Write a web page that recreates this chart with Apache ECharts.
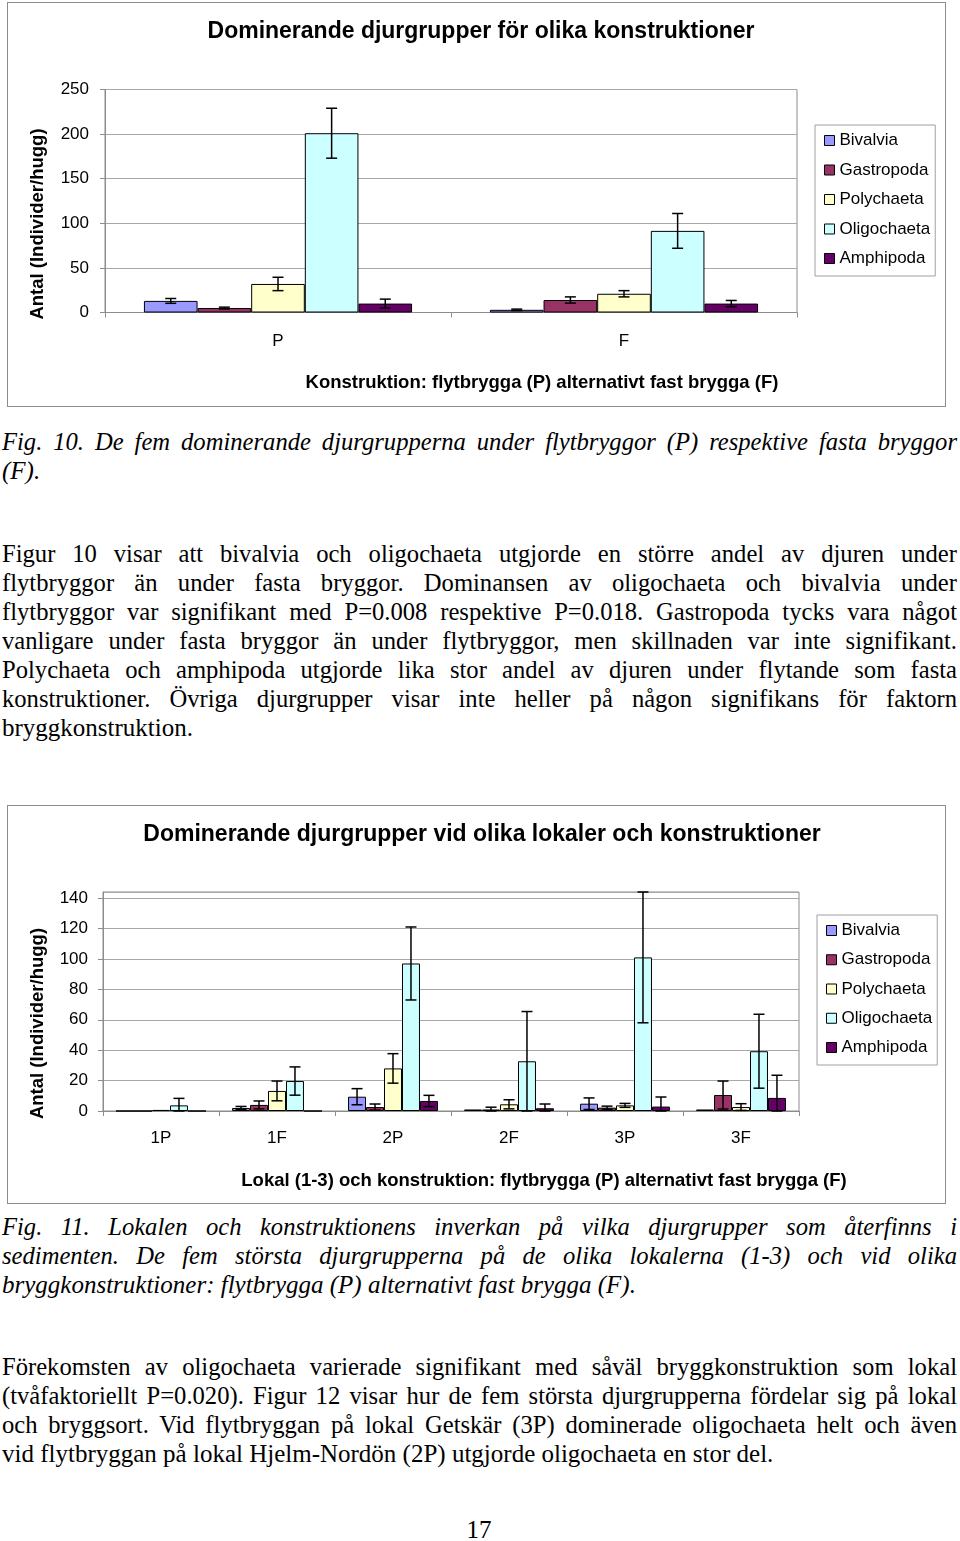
<!DOCTYPE html>
<html lang="sv">
<head>
<meta charset="UTF-8">
<title>Dominerande djurgrupper</title>
<script src="https://cdn.jsdelivr.net/npm/echarts@6/dist/echarts.min.js"></script>
<style>
  body { margin: 0; background: #fff; width: 960px; height: 1541px; position: relative; overflow: hidden;
         font-family: 'Liberation Serif', 'Times New Roman', serif; color: #000; }
  .box { position: absolute; left: 7px; width: 937px; border: 1px solid #8c8c8c; }
  .ln { position: absolute; left: 2px; width: 955px; font-size: 25px; line-height: 29px;
        text-align: justify; text-align-last: justify; transform-origin: 0 0; }
  .ln.end { text-align-last: left; }
  .it { font-style: italic; }
  .pg { position: absolute; left: 0; width: 958px; text-align: center; font-size: 25px; line-height: 29px; }
</style>
</head>
<body>
<div id="fig10" class="box" style="top:2px;height:403px;"></div>

<div class="ln it" style="top:427px;">Fig. 10. De fem dominerande djurgrupperna under flytbryggor (P) respektive fasta bryggor</div>
<div class="ln it end" style="top:456px;">(F).</div>

<div class="ln" style="top:539px;">Figur 10 visar att bivalvia och oligochaeta utgjorde en större andel av djuren under</div>
<div class="ln" style="top:568px;">flytbryggor än under fasta bryggor. Dominansen av oligochaeta och bivalvia under</div>
<div class="ln" style="top:597px;">flytbryggor var signifikant med P=0.008 respektive P=0.018. Gastropoda tycks vara något</div>
<div class="ln" style="top:626px;">vanligare under fasta bryggor än under flytbryggor, men skillnaden var inte signifikant.</div>
<div class="ln" style="top:655px;">Polychaeta och amphipoda utgjorde lika stor andel av djuren under flytande som fasta</div>
<div class="ln" style="top:684px;">konstruktioner. Övriga djurgrupper visar inte heller på någon signifikans för faktorn</div>
<div class="ln end" style="top:713px;">bryggkonstruktion.</div>

<div id="fig11" class="box" style="top:805px;height:397px;"></div>

<div class="ln it" style="top:1212px;">Fig. 11. Lokalen och konstruktionens inverkan på vilka djurgrupper som återfinns i</div>
<div class="ln it" style="top:1241px;">sedimenten. De fem största djurgrupperna på de olika lokalerna (1-3) och vid olika</div>
<div class="ln it end" style="top:1270px;">bryggkonstruktioner: flytbrygga (P) alternativt fast brygga (F).</div>

<div class="ln" style="top:1352px;">Förekomsten av oligochaeta varierade signifikant med såväl bryggkonstruktion som lokal</div>
<div class="ln" style="top:1381px;">(tvåfaktoriellt P=0.020). Figur 12 visar hur de fem största djurgrupperna fördelar sig på lokal</div>
<div class="ln" style="top:1410px;">och bryggsort. Vid flytbryggan på lokal Getskär (3P) dominerade oligochaeta helt och även</div>
<div class="ln end" style="top:1439px;">vid flytbryggan på lokal Hjelm-Nordön (2P) utgjorde oligochaeta en stor del.</div>

<div class="pg" style="top:1515px;">17</div>

<script type="text/javascript">
    var taxa = ['Bivalvia', 'Gastropoda', 'Polychaeta', 'Oligochaeta', 'Amphipoda'];
    var taxaColors = ['#9999FF', '#993366', '#FFFFCC', '#CCFFFF', '#660066'];

    // Fig. 10: flytbrygga (P) / fast brygga (F)
    var fig10Cats = ['P', 'F'];
    var fig10Ticks = [0, 50, 100, 150, 200, 250];
    var fig10Bivalvia = [13, 3];
    var fig10Gastropoda = [5, 14];
    var fig10Polychaeta = [32, 21];
    var fig10Oligochaeta = [201, 91.5];
    var fig10Amphipoda = [10, 10];
    var fig10BivalviaErr = [2.7, 0.8];
    var fig10GastropodaErr = [1, 3.5];
    var fig10PolychaetaErr = [7.5, 3.5];
    var fig10OligochaetaErr = [28, 19.5];
    var fig10AmphipodaErr = [5, 3.5];

    // Fig. 11: lokal (1-3) och konstruktion
    var fig11Cats = ['1P', '1F', '2P', '2F', '3P', '3F'];
    var fig11Ticks = [0, 20, 40, 60, 80, 100, 120, 140];
    var fig11Bivalvia = [0, 2, 9.4, 1, 4.8, 1];
    var fig11Gastropoda = [0, 4, 2.6, 1, 2.2, 10.5];
    var fig11Polychaeta = [0.7, 13.2, 28, 4.4, 3.7, 2.6];
    var fig11Oligochaeta = [3.7, 19.7, 97, 32.7, 101, 39.3];
    var fig11Amphipoda = [0, 0, 6.6, 1.8, 2.9, 8.6];
    var fig11BivalviaErr = [0, 1, 5.3, 0, 3.8, 0];
    var fig11GastropodaErr = [0, 2.6, 2, 1.5, 1, 9.2];
    var fig11PolychaetaErr = [0, 6.5, 9.7, 3, 1.3, 2.2];
    var fig11OligochaetaErr = [4.6, 9.3, 24, 32.7, 43, 24.3];
    var fig11AmphipodaErr = [0, 0, 3.7, 2.8, 6.3, 14.9];

    // rader som är för breda trycks ihop horisontellt
    document.querySelectorAll('.ln').forEach(function (el) {
        el.style.whiteSpace = 'nowrap';
        var w = el.scrollWidth;
        el.style.whiteSpace = '';
        var room = el.classList.contains('end') ? 955 : 940;
        if (w > room) {
            var s = room / w;
            el.style.width = (955 / s) + 'px';
            el.style.transform = 'scaleX(' + s + ')';
        }
    });

    var FONT = "'Liberation Sans', Arial, sans-serif";
    var GAP = '22.5%';

    // felstaplar ritas som custom-serie ovanpå staplarna
    function errorBars(means, errs, idx) {
        return {
            type: 'custom',
            clip: false,
            z: 10,
            silent: true,
            renderItem: function (params, api) {
                var cat = api.value(0), v = api.value(1), e = api.value(2);
                if (!e) return;
                var lay = api.barLayout({ barGap: '0%', barCategoryGap: GAP, count: taxa.length });
                var x = api.coord([cat, v])[0] + lay[idx].offsetCenter;
                var hi = api.coord([cat, v + e])[1];
                var lo = api.coord([cat, Math.max(0, v - e)])[1];
                var cap = 5.5;
                var st = { stroke: '#000', lineWidth: 1.5 };
                return {
                    type: 'group',
                    children: [
                        { type: 'line', shape: { x1: x, y1: hi, x2: x, y2: lo }, style: st },
                        { type: 'line', shape: { x1: x - cap, y1: hi, x2: x + cap, y2: hi }, style: st },
                        { type: 'line', shape: { x1: x - cap, y1: lo, x2: x + cap, y2: lo }, style: st }
                    ]
                };
            },
            data: means.map(function (v, i) { return [i, v, errs[i]]; })
        };
    }

    function makeOption(c) {
        var series = [];
        c.means.forEach(function (m, i) {
            series.push({
                name: taxa[i],
                type: 'bar',
                data: m,
                barGap: '0%',
                barCategoryGap: GAP,
                itemStyle: { color: taxaColors[i], borderColor: '#000', borderWidth: 1 },
                silent: true
            });
        });
        c.means.forEach(function (m, i) {
            series.push(errorBars(m, c.errs[i], i));
        });
        return {
            animation: false,
            textStyle: { fontFamily: FONT },
            grid: { left: c.grid[0], top: c.grid[1], width: c.grid[2], height: c.grid[3],
                    show: true, borderColor: '#8c8c8c', borderWidth: 1 },
            legend: {
                data: taxa,
                orient: 'vertical',
                left: c.legend[0], top: c.legend[1],
                icon: 'rect', itemWidth: 10, itemHeight: 10, itemGap: c.legend[2],
                padding: [7, 5, 9, 9],
                borderColor: '#a0a0a0', borderWidth: 1,
                itemStyle: { borderColor: '#000', borderWidth: 1 },
                textStyle: { fontFamily: FONT, fontSize: 17, color: '#000' },
                selectedMode: false
            },
            xAxis: {
                type: 'category',
                data: c.cats,
                axisLine: { lineStyle: { color: '#8c8c8c' } },
                axisTick: { show: true, length: 5, lineStyle: { color: '#8c8c8c' } },
                axisLabel: { fontFamily: FONT, fontSize: 17, color: '#000', margin: c.xMargin }
            },
            yAxis: {
                type: 'value',
                min: 0, max: c.max, interval: c.ticks[1] - c.ticks[0],
                axisLine: { show: true, lineStyle: { color: '#8c8c8c' } },
                axisTick: { show: true, length: 5, lineStyle: { color: '#8c8c8c' } },
                splitLine: { lineStyle: { color: '#a8a8a8' } },
                axisLabel: {
                    fontFamily: FONT, fontSize: 17, color: '#000', margin: c.yMargin,
                    showMaxLabel: c.max === c.ticks[c.ticks.length - 1],
                    formatter: function (v) { return c.ticks.indexOf(v) >= 0 ? String(v) : ''; }
                }
            },
            graphic: [
                { type: 'text', x: c.title[1], y: c.title[2],
                  style: { text: c.title[0], align: 'center', verticalAlign: 'middle',
                           font: 'bold 23px ' + FONT, fill: '#000' } },
                { type: 'text', x: c.xName[1], y: c.xName[2],
                  style: { text: c.xName[0], align: 'center', verticalAlign: 'middle',
                           font: 'bold 18.5px ' + FONT, fill: '#000' } },
                { type: 'text', x: c.yName[1], y: c.yName[2], rotation: Math.PI / 2,
                  style: { text: c.yName[0], align: 'center', verticalAlign: 'middle',
                           font: 'bold 18.5px ' + FONT, fill: '#000' } }
            ],
            series: series
        };
    }

    var chart10 = echarts.init(document.getElementById('fig10'));
    chart10.setOption(makeOption({
        cats: fig10Cats,
        ticks: fig10Ticks,
        max: 250,
        means: [fig10Bivalvia, fig10Gastropoda, fig10Polychaeta, fig10Oligochaeta, fig10Amphipoda],
        errs: [fig10BivalviaErr, fig10GastropodaErr, fig10PolychaetaErr, fig10OligochaetaErr, fig10AmphipodaErr],
        grid: [97, 86.5, 692, 223],
        legend: [807, 122, 12.5],
        xMargin: 20,
        yMargin: 16,
        title: ['Dominerande djurgrupper för olika konstruktioner', 473, 28.5],
        xName: ['Konstruktion: flytbrygga (P) alternativt fast brygga (F)', 534, 380],
        yName: ['Antal (Individer/hugg)', 30, 221]
    }));

    var chart11 = echarts.init(document.getElementById('fig11'));
    chart11.setOption(makeOption({
        cats: fig11Cats,
        ticks: fig11Ticks,
        max: 144,
        means: [fig11Bivalvia, fig11Gastropoda, fig11Polychaeta, fig11Oligochaeta, fig11Amphipoda],
        errs: [fig11BivalviaErr, fig11GastropodaErr, fig11PolychaetaErr, fig11OligochaetaErr, fig11AmphipodaErr],
        grid: [95, 86, 696, 219],
        legend: [809, 109, 12.25],
        xMargin: 19,
        yMargin: 15,
        title: ['Dominerande djurgrupper vid olika lokaler och konstruktioner', 474, 28.5],
        xName: ['Lokal (1-3) och konstruktion: flytbrygga (P) alternativt fast brygga (F)', 536, 375],
        yName: ['Antal (Individer/hugg)', 30, 217.5]
    }));
</script>
</body>
</html>
